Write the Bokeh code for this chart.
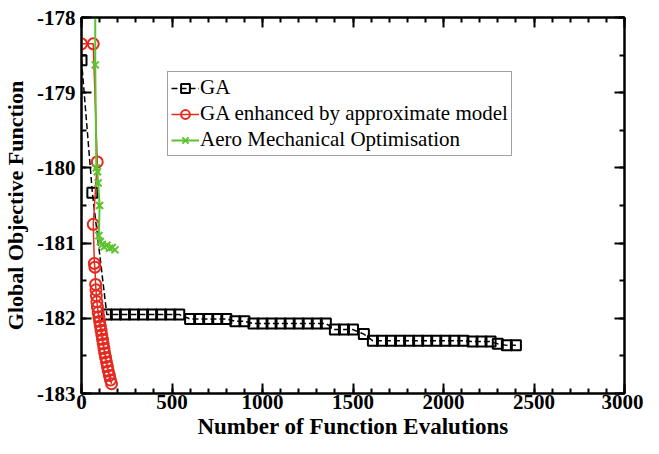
from bokeh.plotting import figure
from bokeh.models import (LinearAxis, Legend, LegendItem, Range1d, SingleIntervalTicker,
                          CustomJSTickFormatter, Title)
from bokeh.embed import file_html
from bokeh.resources import INLINE

# ---- data ----
ga_x = [0, 60, 140, 190, 240, 290, 340, 390, 440, 490, 540,
        600, 650, 700, 750, 800, 850, 900,
        950, 1000, 1050, 1100, 1150, 1200, 1250, 1300, 1350,
        1400, 1450, 1500, 1560,
        1610, 1660, 1710, 1760, 1810, 1860, 1910, 1960, 2010, 2060, 2110, 2160, 2210, 2260,
        2300, 2350, 2400]
ga_y = [-178.57, -180.33, -181.95, -181.95, -181.95, -181.95, -181.95, -181.95, -181.95, -181.95, -181.95,
        -182.01, -182.01, -182.01, -182.01, -182.01, -182.04, -182.04,
        -182.07, -182.07, -182.07, -182.07, -182.07, -182.07, -182.07, -182.07, -182.07,
        -182.15, -182.15, -182.15, -182.21,
        -182.30, -182.30, -182.30, -182.30, -182.30, -182.30, -182.30, -182.30, -182.30, -182.30, -182.30, -182.31, -182.31, -182.31,
        -182.34, -182.36, -182.36]

red_x = [0, 65, 87, 65, 71, 74, 78, 80, 82, 85, 88, 92, 96, 100, 104, 108, 112, 116,
         120, 124, 128, 133, 138, 143, 148, 154, 160, 166]
red_y = [-178.35, -178.35, -179.92, -180.75, -181.27, -181.32, -181.55, -181.62, -181.70,
         -181.78, -181.85, -181.92, -181.98, -182.04, -182.10, -182.16, -182.22, -182.28,
         -182.34, -182.40, -182.46, -182.52, -182.58, -182.64, -182.70, -182.76, -182.82, -182.87]

green_x = [76, 76, 82, 88, 92, 100, 96, 104, 115, 125, 140, 155, 170, 185]
green_y = [-177.0, -178.63, -180.00, -180.05, -180.20, -180.50, -180.90, -180.98,
           -181.02, -181.05, -181.03, -181.07, -181.06, -181.09]

labels = ["GA", "GA enhanced by approximate model", "Aero Mechanical Optimisation"]
x_title = "Number of Function Evalutions"
y_title = "Global Objective Function"

RED = "#e5291f"
GREEN = "#5cc22e"
FONT = "Liberation Serif"

p = figure(width=643, height=438, output_backend="svg", toolbar_location=None,
           x_range=Range1d(0, 3000), y_range=Range1d(-183, -178),
           min_border_left=73, min_border_right=19, min_border_top=17, min_border_bottom=20)
p.grid.visible = False
p.outline_line_color = "black"
p.outline_line_width = 2
p.background_fill_color = "white"
p.border_fill_color = "white"

xt = SingleIntervalTicker(interval=500, num_minor_ticks=5)
yt = SingleIntervalTicker(interval=1, num_minor_ticks=2)

p.xaxis.ticker = xt
p.yaxis.ticker = yt
p.yaxis.formatter = CustomJSTickFormatter(code="return tick.toFixed(0)")

for ax in [p.xaxis[0], p.yaxis[0]]:
    ax.axis_line_width = 2
    ax.major_tick_in = 10
    ax.major_tick_out = 0
    ax.minor_tick_in = 5
    ax.minor_tick_out = 0
    ax.major_tick_line_width = 2
    ax.minor_tick_line_width = 2
    ax.major_label_text_font = FONT
    ax.major_label_text_font_style = "bold"
    ax.major_label_text_font_size = "21px"
    ax.major_label_text_color = "black"
    ax.axis_label_text_font = FONT
    ax.axis_label_text_font_style = "bold"
    ax.axis_label_text_font_size = "22px"
    ax.axis_label_text_color = "black"

p.yaxis.axis_label = y_title
p.xaxis.major_label_standoff = 1
p.yaxis.major_label_standoff = 6
p.yaxis.axis_label_standoff = 6

xlab = Title(text=x_title, align="center", standoff=0, text_font=FONT,
             text_font_style="bold", text_font_size="23px", text_color="black")
p.add_layout(xlab, "below")

for loc, tk in [("above", xt), ("right", yt)]:
    ax = LinearAxis(ticker=tk, formatter=CustomJSTickFormatter(code="return ''"))
    ax.axis_line_width = 2
    ax.major_tick_in = 10
    ax.major_tick_out = 0
    ax.minor_tick_in = 5
    ax.minor_tick_out = 0
    ax.major_tick_line_width = 2
    ax.minor_tick_line_width = 2
    ax.major_label_standoff = 0
    p.add_layout(ax, loc)

ga_line = p.line(ga_x, ga_y, line_color="black", line_width=1.5, line_dash="6 3")
ga_mk = p.scatter(ga_x, ga_y, marker="square", size=10, line_color="black",
                  line_width=2, fill_color=None)

red_line = p.line(red_x, red_y, line_color=RED, line_width=1.5)
red_mk = p.scatter(red_x, red_y, marker="circle", size=11, line_color=RED,
                   line_width=2, fill_color=None)

green_line = p.line(green_x, green_y, line_color=GREEN, line_width=2)
green_mk = p.scatter(green_x, green_y, marker="x", size=10, line_color=GREEN, line_width=2)

legend = Legend(items=[
    LegendItem(label=labels[0], renderers=[ga_line, ga_mk]),
    LegendItem(label=labels[1], renderers=[red_line, red_mk]),
    LegendItem(label=labels[2], renderers=[green_line, green_mk]),
], location=(86, 237))
legend.label_text_font = FONT
legend.label_text_font_size = "21px"
legend.label_text_color = "black"
legend.glyph_width = 28
legend.glyph_height = 22
legend.label_height = 22
legend.label_standoff = 1
legend.spacing = 1
legend.padding = 3
legend.margin = 0
legend.border_line_color = "#444444"
legend.border_line_width = 1.5
legend.background_fill_alpha = 1
p.add_layout(legend, "center")

open("out.html", "w").write(file_html(p, INLINE))
